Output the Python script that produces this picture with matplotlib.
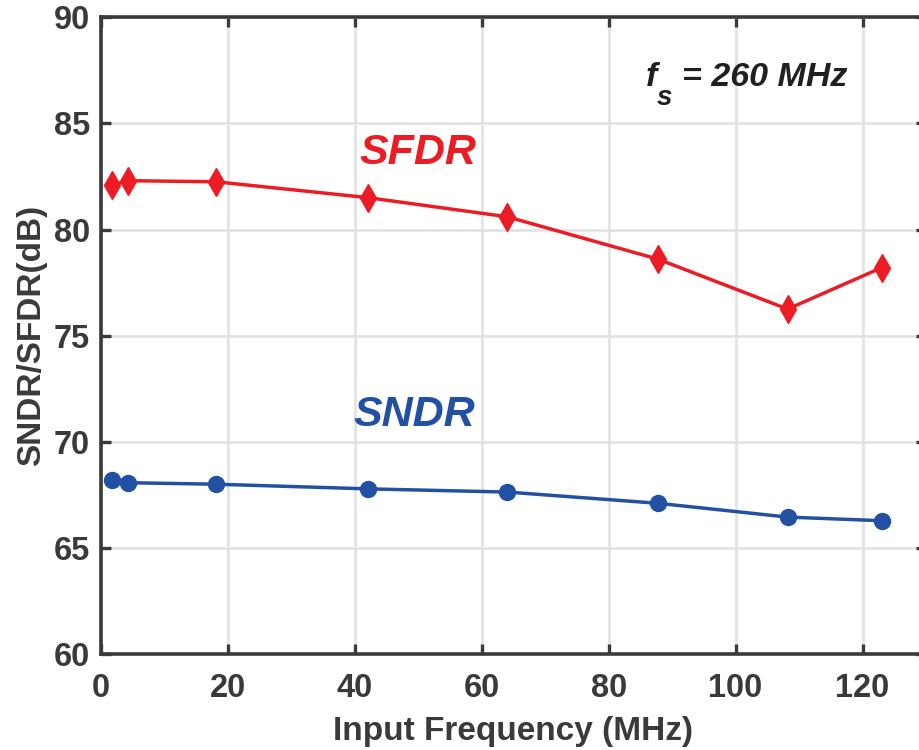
import matplotlib
matplotlib.use("Agg")
import matplotlib.pyplot as plt

plt.rcParams['font.family'] = ['Liberation Sans', 'DejaVu Sans']

# données
freq = [1.7, 4.2, 18.1, 42.1, 64.0, 87.8, 108.2, 123.0]
sfdr = [82.1, 82.3, 82.25, 81.5, 80.6, 78.6, 76.25, 78.2]
sndr = [68.2, 68.07, 68.0, 67.78, 67.63, 67.1, 66.45, 66.28]

red = '#ED1C24'
blue = '#2251A3'
dark = '#3a3a3a'

fig = plt.figure(figsize=(9.2, 7.5), dpi=100)
ax = fig.add_axes([0.1098, 0.128, 0.8967, 0.849])

ax.plot(freq, sfdr, color=red, lw=2.5, marker='d', ms=14, zorder=3)
ax.plot(freq, sndr, color=blue, lw=2.5, marker='o', ms=11.5, zorder=3)

ax.set_xlim(0, 130)
ax.set_ylim(60, 90)
ax.set_xticks(range(0, 121, 20))
ax.set_yticks(range(60, 91, 5))
ax.grid(True, color='#e2e2e2', lw=1.9)
ax.set_axisbelow(True)

for s in ax.spines.values():
    s.set_linewidth(2.6)
    s.set_color(dark)
ax.tick_params(direction='in', length=7.5, width=2.4, top=True, right=True,
               labelsize=23.5, colors=dark)
ax.tick_params(axis='x', pad=14)
ax.tick_params(axis='y', pad=8)
for lab in ax.get_xticklabels() + ax.get_yticklabels():
    lab.set_fontweight('bold')

ax.set_xlabel('Input Frequency (MHz)', fontsize=24, fontweight='bold', color=dark, labelpad=8)
ax.set_ylabel('SNDR/SFDR(dB)', fontsize=24, fontweight='bold', color=dark, labelpad=5)

ax.text(50, 83.6, 'SFDR', color=red, fontsize=31, fontweight='bold', fontstyle='italic',
        ha='center', va='center')
ax.text(49.3, 71.25, 'SNDR', color=blue, fontsize=31, fontweight='bold', fontstyle='italic',
        ha='center', va='center')

# f_s = 260 MHz, indice placé à la main
txt = dict(color='#231f20', fontweight='bold', fontstyle='italic', va='baseline', ha='left')
ax.text(85.8, 86.75, 'f', fontsize=24.5, **txt)
ax.text(87.6, 85.85, 's', fontsize=20, **txt)
ax.text(91.6, 86.75, '= 260 MHz', fontsize=24.5, **txt)

fig.savefig('out.png', dpi=100)
